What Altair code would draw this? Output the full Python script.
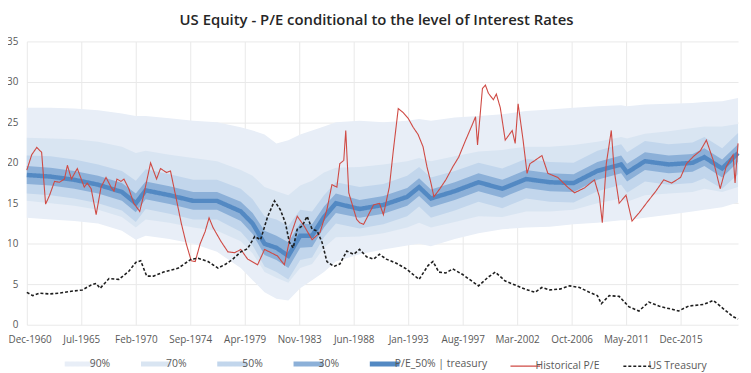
import altair as alt
import pandas as pd

TITLE = "US Equity - P/E conditional to the level of Interest Rates"

# ---- conditional P/E distribution (bands) ----
band_dates = ["1960-12", "1962-12", "1964-12", "1966-12", "1968-12", "1970-02", "1970-12", "1972-12",
              "1974-12", "1976-12", "1978-12", "1979-12", "1980-12", "1981-12", "1982-12", "1983-12",
              "1984-12", "1985-12", "1986-12", "1988-12", "1990-12", "1992-12", "1993-12", "1994-12",
              "1996-12", "1998-12", "2000-12", "2002-12", "2004-12", "2006-12", "2008-12", "2010-12",
              "2011-06", "2012-12", "2014-12", "2016-12", "2017-12", "2019-06", "2020-10"]
median = [18.5, 18.3, 17.9, 17.3, 16.4, 15.0, 16.6, 16.0, 15.3, 15.3, 14.0, 12.5, 10.0, 9.5, 8.5, 11.0,
          11.0, 13.3, 15.0, 14.3, 14.8, 15.8, 17.0, 15.6, 16.5, 17.6, 16.8, 18.0, 17.6, 17.5, 19.0, 19.8,
          18.8, 20.2, 19.8, 20.0, 20.7, 19.3, 21.2]
p30_lo = [17.4, 17.2, 16.8, 16.2, 15.3, 13.9, 15.5, 14.9, 14.2, 14.2, 12.8, 11.2, 8.6, 8.0, 7.0, 9.5,
          9.6, 12.0, 13.8, 13.2, 13.7, 14.7, 15.9, 14.5, 15.4, 16.5, 15.7, 16.9, 16.5, 16.4, 17.9, 18.7,
          17.7, 19.1, 18.7, 18.9, 19.6, 18.2, 20.1]
p30_hi = [19.6, 19.4, 19.0, 18.4, 17.5, 16.2, 17.7, 17.1, 16.4, 16.4, 15.2, 13.8, 11.6, 11.0, 10.2, 12.5,
          12.4, 14.6, 16.2, 15.4, 15.9, 16.9, 18.1, 16.7, 17.6, 18.7, 17.9, 19.1, 18.7, 18.6, 20.1, 20.9,
          19.9, 21.3, 20.9, 21.1, 21.8, 20.4, 22.3]
p50_lo = [16.2, 16.0, 15.6, 15.0, 14.1, 12.7, 14.3, 13.7, 13.0, 13.0, 11.5, 9.8, 7.2, 6.5, 5.6, 8.0,
          8.3, 10.8, 12.5, 11.9, 12.4, 13.4, 14.6, 13.2, 14.1, 15.2, 14.4, 15.6, 15.2, 15.1, 16.5, 17.3,
          16.3, 17.7, 17.3, 17.5, 18.1, 16.8, 18.6]
p50_hi = [20.9, 20.8, 20.4, 19.8, 19.0, 17.8, 19.2, 18.6, 17.9, 17.9, 16.8, 15.5, 13.4, 13.0, 12.2, 14.2,
          14.0, 16.0, 17.6, 17.0, 17.4, 18.4, 19.5, 18.2, 19.0, 20.0, 19.3, 20.5, 20.1, 20.0, 21.5, 22.3,
          21.3, 22.7, 22.3, 22.5, 23.2, 21.8, 23.7]
p70_lo = [15.3, 15.0, 14.7, 14.2, 13.3, 12.0, 13.0, 12.6, 12.0, 11.6, 10.3, 8.8, 6.5, 5.8, 5.2, 7.0,
          7.5, 9.5, 10.8, 10.9, 11.3, 12.0, 12.6, 12.0, 12.7, 13.4, 13.3, 14.0, 14.0, 14.2, 15.0, 15.6,
          15.2, 16.0, 16.2, 16.4, 16.8, 16.4, 17.0]
p70_hi = [23.1, 23.0, 22.9, 22.6, 22.0, 21.2, 21.5, 21.0, 20.6, 20.2, 19.1, 18.4, 17.0, 16.5, 16.0, 17.2,
          17.8, 18.8, 19.4, 19.5, 19.8, 20.2, 20.6, 20.2, 20.8, 21.4, 21.6, 22.0, 22.0, 22.2, 22.6, 23.2,
          23.0, 23.6, 23.9, 24.3, 24.5, 24.5, 24.8]
p90_lo = [13.2, 13.0, 12.8, 12.5, 11.6, 10.5, 11.0, 10.6, 10.0, 9.0, 7.0, 5.5, 4.0, 3.2, 3.0, 4.5,
          5.5, 6.5, 7.8, 8.7, 9.3, 9.8, 10.0, 9.7, 10.6, 11.3, 11.8, 12.0, 12.1, 12.4, 12.6, 12.9,
          12.9, 13.2, 13.6, 14.0, 14.2, 14.5, 15.1]
p90_hi = [26.8, 26.8, 26.7, 26.5, 26.1, 25.8, 25.8, 25.5, 25.2, 25.0, 24.4, 24.0, 23.5, 22.4, 22.8, 23.5,
          24.0, 24.5, 25.0, 25.2, 25.0, 25.2, 25.4, 25.2, 25.6, 25.8, 26.0, 26.4, 26.6, 26.8, 27.0, 27.1,
          27.0, 27.2, 27.3, 27.4, 27.5, 27.6, 28.0]

# ---- Historical P/E ----
pe_dates = ["1960-12", "1961-05", "1961-10", "1962-03", "1962-07", "1962-11", "1963-04", "1963-09",
            "1964-02", "1964-05", "1964-09", "1965-03", "1965-10", "1966-01", "1966-05", "1966-10",
            "1967-03", "1967-08", "1968-01", "1968-04", "1968-07", "1968-11", "1969-02", "1969-07",
            "1969-12", "1970-06", "1970-10", "1971-05", "1971-11", "1972-03", "1972-09", "1973-01",
            "1973-07", "1973-12", "1974-05", "1974-10", "1975-02", "1975-07", "1975-12", "1976-04",
            "1976-08", "1977-04", "1977-11", "1978-06", "1978-12", "1979-07", "1980-05", "1980-12",
            "1982-01", "1982-08", "1983-02", "1983-09", "1984-04", "1984-12", "1985-08", "1986-03",
            "1986-08", "1987-01", "1987-04", "1987-08", "1987-10", "1988-01", "1988-09", "1988-12",
            "1989-04", "1990-02", "1990-08", "1990-12", "1991-06", "1991-10", "1992-03", "1992-08",
            "1993-01", "1993-06", "1993-11", "1994-04", "1994-08", "1994-12", "1995-03", "1995-09",
            "1996-03", "1996-10", "1997-04", "1997-11", "1998-05", "1998-09", "1998-11", "1999-04",
            "1999-07", "1999-10", "2000-03", "2000-06", "2000-10", "2001-03", "2001-10", "2002-01",
            "2002-04", "2002-09", "2003-01", "2003-04", "2003-09", "2004-04", "2004-10", "2005-08",
            "2006-06", "2007-01", "2007-11", "2008-09", "2009-02", "2009-05", "2009-09", "2010-02",
            "2010-05", "2010-10", "2011-05", "2011-11", "2012-06", "2013-02", "2013-11", "2014-07",
            "2015-03", "2015-12", "2016-06", "2017-01", "2017-08", "2018-02", "2018-09", "2019-04",
            "2019-10", "2020-05", "2020-07", "2020-10"]
pe_values = [19.1, 21.0, 21.9, 21.3, 14.9, 16.0, 17.7, 17.6,
             18.0, 19.7, 18.0, 19.3, 17.0, 17.5, 16.8, 13.6,
             17.0, 18.2, 17.0, 16.5, 18.0, 17.7, 18.0, 16.8,
             15.0, 14.0, 16.0, 20.0, 18.0, 19.3, 18.8, 19.0,
             15.5, 12.5, 10.0, 7.9, 7.8, 10.0, 11.5, 13.2,
             12.0, 10.3, 9.0, 8.9, 9.3, 8.1, 7.4, 9.3,
             8.5, 7.4, 10.9, 13.4, 12.2, 10.5, 11.4, 14.2,
             17.3, 17.0, 19.9, 20.3, 24.0, 16.3, 13.0, 12.6,
             12.4, 14.8, 15.0, 13.6, 17.0, 21.5, 26.7, 26.2,
             25.5, 24.4, 23.5, 22.0, 19.5, 17.5, 15.8, 16.8,
             17.9, 19.5, 20.7, 22.8, 24.5, 25.7, 22.2, 29.2,
             29.6, 28.6, 27.8, 28.5, 26.8, 22.8, 24.0, 22.4,
             27.3, 22.8, 18.7, 19.9, 20.3, 20.9, 18.7, 18.2,
             17.0, 16.3, 16.9, 17.9, 15.8, 12.6, 19.9, 24.0,
             19.1, 15.0, 16.0, 12.8, 13.8, 15.1, 16.5, 17.9,
             17.5, 18.2, 19.9, 20.8, 21.5, 22.8, 20.3, 16.8,
             19.5, 21.0, 17.5, 22.4]

# ---- US Treasury yield ----
ust_dates = ["1960-12", "1961-06", "1962-01", "1962-11", "1963-09", "1964-07", "1965-08", "1966-05",
             "1966-10", "1967-02", "1967-11", "1968-09", "1969-07", "1970-02", "1970-07", "1971-01",
             "1971-08", "1972-06", "1973-09", "1974-10", "1975-05", "1976-03", "1977-01", "1977-09",
             "1978-04", "1978-12", "1979-07", "1980-02", "1980-08", "1981-03", "1981-10", "1982-04",
             "1982-09", "1983-01", "1983-05", "1983-09", "1984-02", "1984-07", "1984-12", "1985-05",
             "1985-10", "1986-03", "1986-10", "1987-04", "1987-11", "1988-06", "1988-12", "1989-07",
             "1990-02", "1990-08", "1991-03", "1992-01", "1992-11", "1993-12", "1994-09", "1995-02",
             "1995-08", "1996-03", "1996-10", "1997-08", "1998-04", "1998-12", "1999-10", "2000-05",
             "2001-03", "2002-01", "2002-11", "2003-09", "2004-04", "2004-12", "2005-10", "2006-08",
             "2007-06", "2008-04", "2008-12", "2009-04", "2009-12", "2010-10", "2011-08", "2012-06",
             "2013-04", "2014-02", "2014-12", "2015-10", "2016-08", "2017-11", "2018-09", "2019-07",
             "2020-05", "2020-10"]
ust_values = [4.0, 3.6, 3.9, 3.8, 3.9, 4.1, 4.3, 4.9,
              5.1, 4.5, 5.7, 5.6, 6.6, 7.7, 7.9, 6.0,
              6.0, 6.5, 7.0, 8.1, 8.2, 7.8, 7.0, 7.5,
              8.1, 9.0, 9.4, 10.9, 10.5, 13.3, 15.3, 14.2,
              12.6, 10.2, 9.5, 11.8, 12.2, 13.4, 11.8, 11.6,
              10.2, 7.8, 7.2, 7.5, 9.1, 8.7, 9.3, 8.4,
              8.1, 8.7, 8.1, 7.6, 6.9, 5.6, 7.3, 7.8,
              6.5, 6.4, 6.9, 6.2, 5.5, 4.8, 5.9, 6.5,
              5.4, 4.9, 4.4, 4.0, 4.6, 4.3, 4.4, 4.8,
              4.6, 4.0, 3.6, 2.6, 3.6, 3.5, 2.2, 1.7,
              2.8, 2.3, 2.0, 1.7, 2.3, 2.5, 3.0, 2.0,
              1.0, 0.7]

# ---- axes ----
tick_dates = ["1960-12", "1965-07", "1970-02", "1974-09", "1979-04", "1983-11", "1988-06",
              "1993-01", "1997-08", "2002-03", "2006-10", "2011-05", "2015-12"]
x_domain = ["1960-12", "2020-10"]
y_ticks = [0, 5, 10, 15, 20, 25, 30, 35]

series_names = ["90%", "70%", "50%", "30%", "P/E_50% | treasury", "Historical P/E", "US Treasury"]
series_colors = ["#e8eef7", "#d9e5f2", "#c2d6ec", "#8cb0d8", "#5389c3", "#cf4a44", "#1e1e1e"]
series_dashes = [[1, 0], [1, 0], [1, 0], [1, 0], [1, 0], [1, 0], [3, 2]]
line_widths = {"P/E_50% | treasury": 4.5, "Historical P/E": 1.1, "US Treasury": 1.6}

FONT = "Open Sans"


def dt(s):
    y, m = s.split("-")
    return alt.DateTime(year=int(y), month=int(m), date=1, utc=True)


def iso(s):
    return s + "-01"


bands_df = pd.DataFrame({
    "date": [iso(d) for d in band_dates],
    "p30_lo": p30_lo, "p30_hi": p30_hi,
    "p50_lo": p50_lo, "p50_hi": p50_hi,
    "p70_lo": p70_lo, "p70_hi": p70_hi,
    "p90_lo": p90_lo, "p90_hi": p90_hi,
})

lines_df = pd.concat([
    pd.DataFrame({"date": [iso(d) for d in band_dates], "value": median,
                  "series": "P/E_50% | treasury"}),
    pd.DataFrame({"date": [iso(d) for d in pe_dates], "value": pe_values,
                  "series": "Historical P/E"}),
    pd.DataFrame({"date": [iso(d) for d in ust_dates], "value": ust_values,
                  "series": "US Treasury"}),
], ignore_index=True)

x_enc = alt.X(
    "date:T",
    scale=alt.Scale(type="utc", domain=[dt(d) for d in x_domain], nice=False),
    axis=alt.Axis(values=[dt(d) for d in tick_dates], format="%b-%Y", title=None,
                  labelPadding=10, grid=True, labelOverlap=False,
                  labelFlush=1, labelFlushOffset=19),
)
y_scale = alt.Scale(domain=[0, 35], nice=False)
y_axis = alt.Axis(values=y_ticks, title=None, labelPadding=9, grid=True)

band_colors = dict(zip(series_names, series_colors))


def band(lo, hi, name):
    return alt.Chart(bands_df).mark_area(color=band_colors[name], opacity=1).encode(
        x=x_enc,
        y=alt.Y(lo + ":Q", scale=y_scale, axis=y_axis),
        y2=alt.Y2(hi + ":Q"),
    )


legend_kw = dict(
    title=None, orient="none", legendX=48, legendY=320, direction="horizontal",
    symbolType="stroke", symbolSize=900, labelFont=FONT, labelFontSize=10.5,
    labelColor="#595959", labelOffset=5, columnPadding=20,
    symbolStrokeWidth={"expr": "datum.value === 'Historical P/E' ? 1.3 : "
                               "(datum.value === 'US Treasury' ? 1.6 : 5)"},
)


def line(name):
    return alt.Chart(lines_df).transform_filter(
        alt.datum.series == name
    ).mark_line(interpolate="linear", strokeWidth=line_widths[name]).encode(
        x=x_enc,
        y=alt.Y("value:Q", scale=y_scale, axis=y_axis),
        color=alt.Color("series:N", scale=alt.Scale(domain=series_names, range=series_colors),
                        legend=alt.Legend(**legend_kw)),
        strokeDash=alt.StrokeDash("series:N",
                                  scale=alt.Scale(domain=series_names, range=series_dashes),
                                  legend=alt.Legend(**legend_kw)),
    )


chart = alt.layer(
    band("p90_lo", "p90_hi", "90%"),
    band("p70_lo", "p70_hi", "70%"),
    band("p50_lo", "p50_hi", "50%"),
    band("p30_lo", "p30_hi", "30%"),
    line("P/E_50% | treasury"),
    line("Historical P/E"),
    line("US Treasury"),
).properties(
    width=718, height=286,
    title=alt.TitleParams(TITLE, font=FONT, fontSize=15, fontWeight=600,
                          color="#262626", offset=9, dx=-6),
    autosize=alt.AutoSizeParams(type="none"),
    padding={"left": 19, "top": 32, "right": 5, "bottom": 46},
).configure_view(stroke=None).configure_axis(
    labelFont=FONT, labelFontSize=10, labelColor="#595959",
    gridColor="#e9e9e9", gridWidth=1, domain=False, ticks=False,
)

chart.save("out.html", embed_options={"renderer": "svg", "actions": False})
